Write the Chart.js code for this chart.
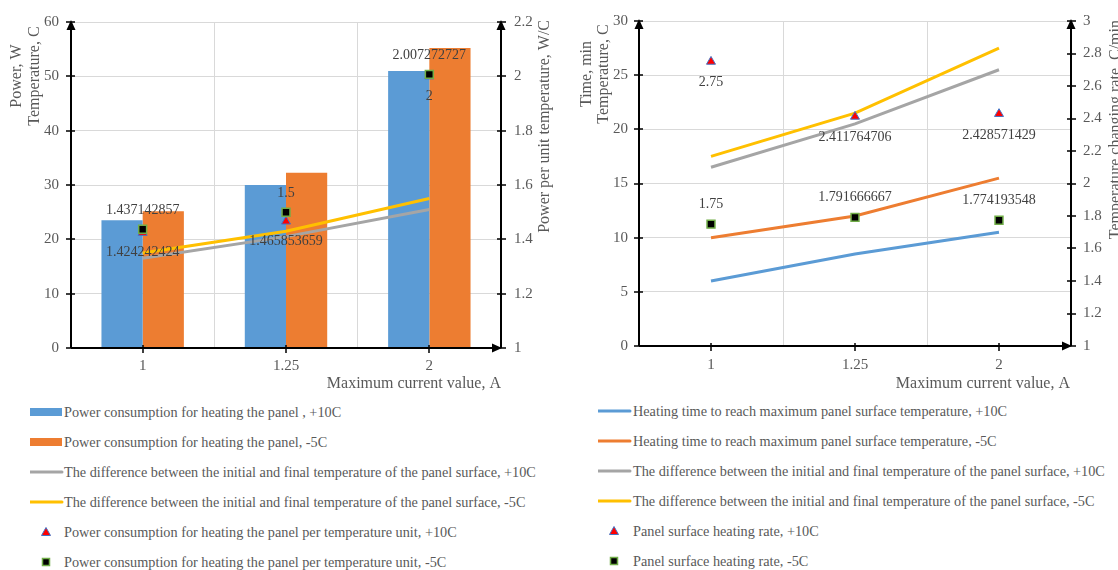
<!DOCTYPE html>
<html><head><meta charset="utf-8">
<script src="https://cdn.jsdelivr.net/npm/chart.js@4"></script>
<style>
body{margin:0;width:1118px;height:570px;background:#fff;overflow:hidden;position:relative;font-family:"Liberation Serif","Times New Roman",serif;}
.box{position:absolute;top:0;width:559px;height:395px;}
#b1{left:0}
#b2{left:559px}
.item{position:absolute;height:20px;line-height:20px;font-size:14.25px;color:#595959;white-space:nowrap;}
.sym{position:absolute;top:0;height:20px;}
.txt{position:absolute;top:0;}
</style>
</head><body>
<div class="box" id="b1"><canvas id="c1"></canvas></div>
<div class="box" id="b2"><canvas id="c2"></canvas></div>
<div id="leg"></div>
<script>
// ---------- data ----------
const categories = ['1', '1.25', '2'];
const powerPlus10 = [23.5, 30, 51];
const powerMinus5 = [25.15, 32.25, 55.2];
const dTempPlus10 = [16.5, 20.5, 25.5];
const dTempMinus5 = [17.5, 21.5, 27.5];
const powerPerTempPlus10 = [1.424242424, 1.465853659, 2];
const powerPerTempMinus5 = [1.437142857, 1.5, 2.007272727];
const heatTimePlus10 = [6, 8.5, 10.5];
const heatTimeMinus5 = [10, 12, 15.5];
const heatRatePlus10 = [2.75, 2.411764706, 2.428571429];
const heatRateMinus5 = [1.75, 1.791666667, 1.774193548];
const leftTicks1 = [0, 10, 20, 30, 40, 50, 60];
const rightTicks1 = [1, 1.2, 1.4, 1.6, 1.8, 2, 2.2];
const leftTicks2 = [0, 5, 10, 15, 20, 25, 30];
const rightTicks2 = [1, 1.2, 1.4, 1.6, 1.8, 2, 2.2, 2.4, 2.6, 2.8, 3];

const legend1 = [
  'Power consumption for heating the panel , +10C',
  'Power consumption for heating the panel, -5C',
  'The difference between the initial and final temperature of the panel surface, +10C',
  'The difference between the initial and final temperature of the panel surface, -5C',
  'Power consumption for heating the panel per temperature unit, +10C',
  'Power consumption for heating the panel per temperature unit, -5C'
];
const legend2 = [
  'Heating time to reach maximum panel surface temperature, +10C',
  'Heating time to reach maximum panel surface temperature, -5C',
  'The difference between the initial and final temperature of the panel surface, +10C',
  'The difference between the initial and final temperature of the panel surface, -5C',
  'Panel surface heating rate, +10C',
  'Panel surface heating rate, -5C'
];

// ---------- styles ----------
const BLUE = '#5B9BD5', ORANGE = '#ED7D31', GRAY = '#A5A5A5', YELLOW = '#FFC000';
const FONT = 'Liberation Serif';
const TXT = '#595959';
Chart.defaults.font.family = FONT;
Chart.defaults.devicePixelRatio = 1;

const deco = {
  id: 'deco',
  afterDatasetsDraw(chart, args, o) {
    const ctx = chart.ctx, ca = chart.chartArea;
    const x = chart.scales.x, y = chart.scales.y, y2 = chart.scales.y2;
    ctx.save();
    // data labels
    ctx.font = '14px ' + FONT;
    ctx.fillStyle = '#404040';
    ctx.textAlign = 'center';
    ctx.textBaseline = 'middle';
    o.labels.forEach(l => {
      const meta = chart.getDatasetMeta(l.ds);
      meta.data.forEach((p, i) => {
        ctx.fillText(String(chart.data.datasets[l.ds].data[i]), p.x, p.y + l.dy);
      });
    });
    // axes
    ctx.strokeStyle = '#000';
    ctx.fillStyle = '#000';
    ctx.lineWidth = 2;
    ctx.beginPath();
    ctx.moveTo(ca.left, ca.top); ctx.lineTo(ca.left, ca.bottom);
    ctx.moveTo(ca.right, ca.top); ctx.lineTo(ca.right, ca.bottom);
    ctx.moveTo(ca.left, ca.bottom); ctx.lineTo(ca.right - 6, ca.bottom);
    ctx.stroke();
    ctx.lineWidth = 1.5;
    ctx.beginPath();
    y.ticks.forEach(t => { const py = Math.round(y.getPixelForValue(t.value)); ctx.moveTo(ca.left - 5, py); ctx.lineTo(ca.left + 4, py); });
    y2.ticks.forEach(t => { const py = Math.round(y2.getPixelForValue(t.value)); ctx.moveTo(ca.right - 4, py); ctx.lineTo(ca.right + 5, py); });
    categories.forEach((c, i) => { const px = Math.round(x.getPixelForValue(i)); ctx.moveTo(px, ca.bottom - 3); ctx.lineTo(px, ca.bottom + 5); });
    ctx.stroke();
    // arrows
    const arrowUp = (ax) => { ctx.beginPath(); ctx.moveTo(ax, ca.top - 2); ctx.lineTo(ax - 4.5, ca.top + 8); ctx.lineTo(ax + 4.5, ca.top + 8); ctx.closePath(); ctx.fill(); };
    arrowUp(ca.left); arrowUp(ca.right);
    ctx.beginPath(); ctx.moveTo(ca.right + 1, ca.bottom); ctx.lineTo(ca.right - 9, ca.bottom - 4.5); ctx.lineTo(ca.right - 9, ca.bottom + 4.5); ctx.closePath(); ctx.fill();
    ctx.restore();
  },
  afterDraw(chart, args, o) {
    const ctx = chart.ctx;
    ctx.save();
    ctx.fillStyle = TXT;
    ctx.font = '16px ' + FONT;
    ctx.textBaseline = 'middle';
    o.leftTitles.forEach(t => {
      ctx.save(); ctx.translate(t.x, t.y); ctx.rotate(-Math.PI / 2); ctx.textAlign = 'center'; ctx.fillText(t.text, 0, 0); ctx.restore();
    });
    const r = o.rightTitle;
    ctx.save(); ctx.translate(r.x, r.y); ctx.rotate(-Math.PI / 2); ctx.textAlign = 'right'; ctx.fillText(r.text, 0, 0); ctx.restore();
    ctx.textAlign = 'right';
    ctx.fillText(o.xTitle.text, o.xTitle.x, o.xTitle.y);
    ctx.restore();
  }
};

function fixTicks(arr) { return s => { s.ticks = arr.map(v => ({ value: v })); }; }
const tickFont = { family: FONT, size: 15 };
const fmt = v => String(Math.round(v * 100) / 100);

function makeScales(cfg) {
  return {
    x: {
      offset: true,
      grid: { offset: true, color: '#D9D9D9', drawTicks: false },
      border: { display: false },
      ticks: { font: tickFont, color: TXT, padding: cfg.xPad },
      afterFit: s => { s.height = cfg.xH; }
    },
    y: {
      position: 'left', min: cfg.yMin, max: cfg.yMax,
      afterBuildTicks: fixTicks(cfg.yTicks),
      grid: { color: '#D9D9D9', drawTicks: false },
      border: { display: false },
      ticks: { font: tickFont, color: TXT, padding: cfg.yPad, callback: fmt },
      afterFit: s => { s.width = cfg.yW; }
    },
    y2: {
      position: 'right', min: cfg.y2Min, max: cfg.y2Max,
      afterBuildTicks: fixTicks(cfg.y2Ticks),
      grid: { display: false, drawTicks: false },
      border: { display: false },
      ticks: { font: tickFont, color: TXT, padding: cfg.y2Pad, callback: fmt },
      afterFit: s => { s.width = cfg.y2W; }
    }
  };
}

const triStyle = { pointStyle: 'triangle', pointRadius: 5.2, pointBackgroundColor: '#FF0000', pointBorderColor: '#4472C4', pointBorderWidth: 1, showLine: false, backgroundColor: '#FF0000', borderColor: '#4472C4' };
const sqStyle = { pointStyle: 'rect', pointRadius: 5.6, pointBackgroundColor: '#000000', pointBorderColor: '#70AD47', pointBorderWidth: 1.5, showLine: false, backgroundColor: '#000', borderColor: '#70AD47' };
const lineStyle = c => ({ type: 'line', borderColor: c, backgroundColor: c, borderWidth: 3, pointRadius: 0, tension: 0, fill: false });

new Chart(document.getElementById('c1'), {
  type: 'bar',
  data: {
    labels: categories,
    datasets: [
      { label: legend1[0], data: powerPlus10, backgroundColor: BLUE, yAxisID: 'y', order: 4, categoryPercentage: 0.575, barPercentage: 1 },
      { label: legend1[1], data: powerMinus5, backgroundColor: ORANGE, yAxisID: 'y', order: 5, categoryPercentage: 0.575, barPercentage: 1 },
      Object.assign({ label: legend1[2], data: dTempPlus10, yAxisID: 'y', order: 3 }, lineStyle(GRAY)),
      Object.assign({ label: legend1[3], data: dTempMinus5, yAxisID: 'y', order: 2 }, lineStyle(YELLOW)),
      Object.assign({ type: 'line', label: legend1[4], data: powerPerTempPlus10, yAxisID: 'y2', order: 1 }, triStyle),
      Object.assign({ type: 'line', label: legend1[5], data: powerPerTempMinus5, yAxisID: 'y2', order: 0 }, sqStyle)
    ]
  },
  options: {
    responsive: true, maintainAspectRatio: false, animation: false,
    layout: { padding: { top: 20, left: 0, right: 0, bottom: 0 } },
    plugins: {
      legend: { display: false }, tooltip: { enabled: false },
      deco: {
        labels: [{ ds: 4, dy: 20 }, { ds: 5, dy: -19 }],
        leftTitles: [{ text: 'Power, W', x: 17, y: 76 }, { text: 'Temperature, C', x: 35, y: 76 }],
        rightTitle: { text: 'Power per unit temperature, W/C', x: 545, y: 20 },
        xTitle: { text: 'Maximum current value, A', x: 501, y: 384 }
      }
    },
    scales: makeScales({ xPad: 9, xH: 47, yMin: 0, yMax: 60, yTicks: leftTicks1, yPad: 12, yW: 71,
      y2Min: 1, y2Max: 2.2, y2Ticks: rightTicks1, y2Pad: 13, y2W: 58 })
  },
  plugins: [deco]
});

new Chart(document.getElementById('c2'), {
  type: 'line',
  data: {
    labels: categories,
    datasets: [
      Object.assign({ label: legend2[0], data: heatTimePlus10, yAxisID: 'y', order: 5 }, lineStyle(BLUE)),
      Object.assign({ label: legend2[1], data: heatTimeMinus5, yAxisID: 'y', order: 4 }, lineStyle(ORANGE)),
      Object.assign({ label: legend2[2], data: dTempPlus10, yAxisID: 'y', order: 3 }, lineStyle(GRAY)),
      Object.assign({ label: legend2[3], data: dTempMinus5, yAxisID: 'y', order: 2 }, lineStyle(YELLOW)),
      Object.assign({ label: legend2[4], data: heatRatePlus10, yAxisID: 'y2', order: 1 }, triStyle),
      Object.assign({ label: legend2[5], data: heatRateMinus5, yAxisID: 'y2', order: 0 }, sqStyle)
    ]
  },
  options: {
    responsive: true, maintainAspectRatio: false, animation: false,
    layout: { padding: { top: 17, left: 0, right: 0, bottom: 0 } },
    plugins: {
      legend: { display: false }, tooltip: { enabled: false },
      deco: {
        labels: [{ ds: 4, dy: 21 }, { ds: 5, dy: -20 }],
        leftTitles: [{ text: 'Time, min', x: 28, y: 74 }, { text: 'Temperature, C', x: 45, y: 74 }],
        rightTitle: { text: 'Temperature changing rate, C/min', x: 557, y: 20 },
        xTitle: { text: 'Maximum current value, A', x: 511, y: 384 }
      }
    },
    scales: makeScales({ xPad: 10, xH: 49, yMin: 0, yMax: 30, yTicks: leftTicks2, yPad: 11, yW: 80,
      y2Min: 1, y2Max: 3, y2Ticks: rightTicks2, y2Pad: 12, y2W: 47 })
  },
  plugins: [deco]
});

// ---------- HTML legends ----------
function sym(kind, color) {
  if (kind === 'bar') return `<svg width="34" height="20"><rect x="0" y="6" width="32" height="8" fill="${color}"/></svg>`;
  if (kind === 'line') return `<svg width="34" height="20"><line x1="0" y1="10" x2="32" y2="10" stroke="${color}" stroke-width="3" stroke-linecap="round"/></svg>`;
  if (kind === 'tri') return `<svg width="34" height="20"><polygon points="16,5.5 20.5,13.5 11.5,13.5" fill="#FF0000" stroke="#4472C4" stroke-width="1"/></svg>`;
  return `<svg width="34" height="20"><rect x="12.5" y="6.5" width="7" height="7" fill="#000" stroke="#70AD47" stroke-width="1.5"/></svg>`;
}
function buildLegend(texts, kinds, colors, symX, txtX, top0) {
  const leg = document.getElementById('leg');
  texts.forEach((t, i) => {
    const d = document.createElement('div');
    d.className = 'item';
    d.style.left = '0px';
    d.style.top = (top0 + 30 * i - 10) + 'px';
    d.innerHTML = `<span class="sym" style="left:${symX}px">${sym(kinds[i], colors[i])}</span><span class="txt" style="left:${txtX}px">${t}</span>`;
    leg.appendChild(d);
  });
}
buildLegend(legend1, ['bar', 'bar', 'line', 'line', 'tri', 'sq'], [BLUE, ORANGE, GRAY, YELLOW, '', ''], 30, 64, 412);
buildLegend(legend2, ['line', 'line', 'line', 'line', 'tri', 'sq'], [BLUE, ORANGE, GRAY, YELLOW, '', ''], 598, 633, 411);
</script>
</body></html>
